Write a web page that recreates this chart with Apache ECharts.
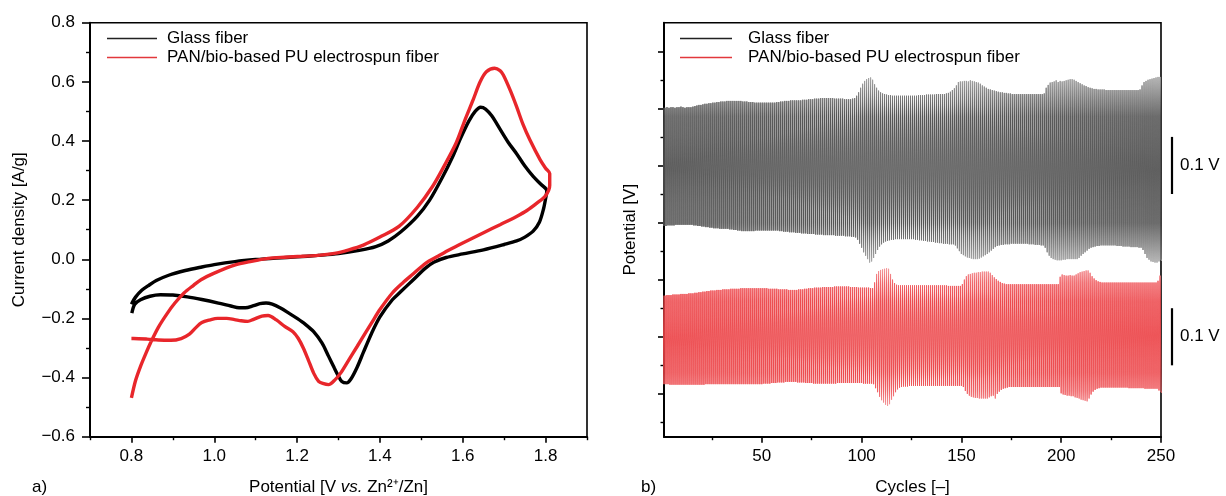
<!DOCTYPE html>
<html>
<head>
<meta charset="utf-8">
<script src="https://cdn.jsdelivr.net/npm/echarts@6/dist/echarts.min.js"></script>
<style>
  html, body { margin: 0; padding: 0; background: #fff; }
  #chart { width: 1226px; height: 496px; }
</style>
</head>
<body>
<div id="chart"></div>
<script>
// ---- a) cyclic voltammetry: potential [V vs. Zn2+/Zn] and current density [A/g]
const glassE = [0.800,0.810,0.825,0.840,0.860,0.890,0.930,0.970,1.000,1.050,1.100,1.150,1.200,1.250,1.300,1.350,1.390,1.420,1.450,1.490,1.520,1.550,1.575,1.595,1.615,1.630,1.643,1.655,1.670,1.690,1.710,1.730,1.750,1.770,1.790,1.803,
  1.800,1.795,1.785,1.770,1.750,1.730,1.700,1.650,1.600,1.560,1.530,1.510,1.480,1.450,1.430,1.400,1.380,1.360,1.345,1.330,1.320,1.308,1.298,1.290,1.275,1.260,1.240,1.220,1.200,1.180,1.160,1.140,1.125,1.110,1.095,1.075,1.060,1.040,1.010,0.970,0.935,0.900,0.870,0.845,0.822,0.808,0.801];
const glassI = [-0.152,-0.128,-0.105,-0.090,-0.072,-0.054,-0.038,-0.026,-0.018,-0.008,-0.001,0.004,0.008,0.013,0.019,0.030,0.043,0.062,0.092,0.145,0.200,0.275,0.345,0.410,0.468,0.500,0.514,0.508,0.485,0.440,0.395,0.357,0.315,0.280,0.252,0.232,
  0.205,0.170,0.125,0.095,0.075,0.062,0.050,0.032,0.018,0.006,-0.010,-0.030,-0.070,-0.110,-0.137,-0.195,-0.250,-0.315,-0.365,-0.405,-0.418,-0.413,-0.390,-0.368,-0.325,-0.283,-0.245,-0.220,-0.200,-0.182,-0.165,-0.152,-0.148,-0.150,-0.157,-0.164,-0.164,-0.158,-0.148,-0.136,-0.127,-0.121,-0.120,-0.125,-0.137,-0.152,-0.182];

const panE = [0.800,0.810,0.822,0.835,0.846,0.865,0.887,0.905,0.927,0.950,0.968,1.000,1.049,1.090,1.130,1.170,1.211,1.250,1.290,1.325,1.360,1.400,1.446,1.490,1.527,1.555,1.584,1.605,1.625,1.642,1.657,1.677,1.690,1.698,1.715,1.730,1.745,1.762,1.787,1.800,1.810,1.810,
  1.800,1.779,1.755,1.730,1.690,1.649,1.600,1.568,1.540,1.511,1.480,1.455,1.430,1.400,1.380,1.365,1.345,1.325,1.305,1.292,1.276,1.262,1.252,1.240,1.227,1.215,1.203,1.190,1.170,1.150,1.130,1.115,1.095,1.081,1.065,1.049,1.030,1.008,0.990,0.970,0.955,0.940,0.920,0.895,0.865,0.838,0.805,0.800];
const panI = [-0.469,-0.410,-0.362,-0.318,-0.283,-0.230,-0.182,-0.148,-0.114,-0.088,-0.069,-0.047,-0.020,-0.007,0.003,0.007,0.010,0.013,0.020,0.032,0.048,0.075,0.111,0.175,0.246,0.315,0.393,0.470,0.539,0.600,0.634,0.646,0.638,0.623,0.570,0.516,0.458,0.404,0.336,0.308,0.290,0.250,
  0.215,0.190,0.165,0.145,0.117,0.089,0.055,0.032,0.010,-0.013,-0.050,-0.080,-0.114,-0.170,-0.215,-0.249,-0.295,-0.340,-0.385,-0.407,-0.424,-0.420,-0.413,-0.385,-0.340,-0.300,-0.268,-0.245,-0.227,-0.205,-0.190,-0.192,-0.203,-0.210,-0.208,-0.204,-0.200,-0.200,-0.205,-0.214,-0.232,-0.253,-0.268,-0.274,-0.273,-0.270,-0.268,-0.268];

// ---- b) galvanostatic cycling: per-cycle peak potentials [mV], cycles 1..250
const glassUpper = [
  101,101,102,101,102,102,101,102,102,103,102,101,102,102,102,103,104,105,106,106,107,108,108,109,109,
  110,110,111,111,112,112,112,113,113,113,113,113,113,113,113,112,112,112,111,111,111,110,110,110,110,
  110,110,110,110,110,110,110,111,111,112,112,113,113,113,114,114,114,114,114,114,115,115,115,116,116,
  116,117,117,117,118,118,118,118,118,118,118,117,117,117,117,117,116,116,116,116,117,118,122,128,136,
  143,148,151,153,154,150,142,136,131,128,126,125,124,123,123,122,122,122,122,122,122,122,122,122,122,
  122,122,122,123,123,123,123,124,124,124,124,124,125,125,125,125,125,126,127,129,132,135,140,146,147,
  147,148,148,147,149,148,147,146,145,143,140,138,136,134,133,132,131,130,129,128,128,127,127,126,126,
  125,125,125,125,125,125,125,125,125,125,125,125,125,125,125,125,126,136,141,145,146,147,149,146,148,
  147,148,149,150,151,151,150,148,146,144,142,140,139,137,136,135,134,134,133,133,133,133,132,132,132,
  132,132,132,132,132,132,132,132,132,132,132,132,132,132,133,140,146,148,150,151,152,153,154,155,155];
const glassLower = [
  -106,-106,-105,-105,-105,-105,-104,-104,-104,-104,-104,-104,-104,-104,-104,-105,-105,-106,-106,-107,-107,-108,-108,-109,-109,
  -110,-110,-110,-111,-111,-111,-111,-111,-112,-112,-113,-113,-114,-114,-115,-115,-115,-115,-115,-115,-115,-114,-114,-114,-114,
  -114,-114,-114,-114,-114,-114,-114,-114,-115,-115,-116,-116,-116,-117,-117,-117,-118,-118,-118,-119,-119,-119,-120,-120,-120,
  -120,-121,-121,-121,-121,-122,-122,-122,-122,-122,-122,-123,-123,-123,-123,-123,-124,-124,-124,-125,-125,-126,-130,-137,-144,
  -152,-158,-164,-170,-168,-162,-155,-148,-142,-138,-135,-133,-132,-131,-130,-130,-129,-129,-129,-129,-129,-129,-129,-129,-129,
  -129,-130,-130,-131,-131,-132,-132,-133,-133,-134,-134,-135,-135,-136,-136,-137,-137,-137,-138,-138,-138,-140,-145,-150,-155,
  -157,-159,-161,-162,-163,-164,-164,-164,-163,-161,-159,-157,-155,-152,-149,-146,-143,-141,-140,-139,-139,-138,-138,-138,-137,
  -137,-137,-137,-137,-137,-137,-137,-137,-138,-138,-138,-139,-139,-139,-140,-140,-144,-152,-158,-162,-164,-165,-166,-166,-166,
  -165,-165,-164,-164,-164,-164,-164,-164,-162,-158,-155,-152,-149,-146,-144,-143,-142,-141,-141,-140,-140,-140,-140,-140,-140,
  -140,-140,-141,-141,-141,-142,-142,-142,-142,-143,-143,-143,-143,-144,-144,-148,-155,-162,-165,-168,-169,-170,-170,-168,-166];
const panUpper = [
  72,72,73,73,73,74,74,74,74,75,75,75,75,76,76,76,77,77,78,78,79,79,80,80,81,
  81,81,82,82,82,83,83,83,83,84,84,84,84,84,85,85,85,85,85,85,85,85,85,85,85,
  85,85,85,84,84,84,84,84,83,83,83,83,83,82,82,82,82,82,83,83,83,84,84,85,85,
  85,86,86,86,86,87,87,87,87,87,87,88,88,88,88,88,88,88,88,87,87,87,87,86,86,
  86,86,86,86,85,85,95,110,115,117,118,119,120,119,110,100,94,91,90,90,90,90,90,90,90,
  90,90,90,90,90,90,90,90,90,90,90,90,90,90,90,90,90,90,89,89,89,89,89,89,89,
  92,100,106,109,110,111,112,112,113,113,114,114,114,114,112,108,104,101,98,96,94,93,92,92,92,
  92,92,92,92,92,92,92,92,92,92,92,92,92,92,92,92,92,92,92,92,92,92,92,92,105,
  109,108,107,107,108,107,107,109,111,113,114,115,116,116,112,106,102,99,97,96,95,95,95,95,95,
  95,95,95,95,95,95,95,95,95,95,95,95,95,95,95,95,95,95,95,95,95,95,95,98,107];
const panLower = [
  -83,-83,-83,-84,-84,-84,-84,-84,-84,-84,-84,-84,-84,-84,-84,-84,-84,-84,-84,-84,-84,-83,-83,-83,-83,
  -83,-83,-83,-83,-83,-83,-83,-83,-83,-83,-83,-83,-83,-83,-83,-83,-83,-83,-83,-83,-83,-83,-83,-83,-83,
  -82,-82,-82,-82,-81,-81,-81,-80,-80,-80,-80,-79,-79,-79,-79,-79,-79,-80,-80,-80,-80,-81,-81,-81,-81,
  -82,-82,-82,-82,-82,-82,-82,-82,-82,-82,-82,-82,-81,-81,-81,-81,-81,-81,-81,-81,-81,-81,-81,-81,-81,
  -82,-82,-82,-82,-82,-83,-90,-97,-105,-111,-115,-119,-121,-118,-110,-104,-97,-92,-89,-88,-87,-87,-87,-86,-86,
  -86,-86,-86,-86,-86,-86,-86,-86,-86,-86,-86,-86,-86,-86,-86,-86,-86,-86,-86,-86,-86,-86,-86,-86,-86,
  -88,-95,-100,-103,-105,-106,-107,-107,-108,-108,-108,-108,-108,-106,-104,-103,-108,-100,-96,-93,-91,-90,-89,-88,-88,
  -88,-88,-88,-88,-88,-88,-88,-88,-88,-88,-88,-88,-88,-88,-88,-88,-88,-88,-88,-88,-88,-88,-88,-88,-99,
  -101,-102,-103,-103,-104,-104,-106,-107,-108,-110,-111,-112,-113,-108,-101,-96,-93,-91,-90,-89,-89,-89,-89,-89,-89,
  -89,-89,-89,-89,-89,-89,-89,-89,-90,-90,-90,-90,-90,-90,-90,-90,-91,-91,-91,-91,-91,-91,-91,-94,-97];

// vertical stacking of the two traces in panel b [V]
const glassOffset = 0.3;
const panOffset = 0.0;
const scaleBarV = 0.1;

// tick positions
const cvMajorTicksE = [0.8, 1.0, 1.2, 1.4, 1.6, 1.8];
const cvMinorTicksE = [0.7, 0.9, 1.1, 1.3, 1.5, 1.7, 1.9];
const cycleMajorTicks = [50, 100, 150, 200, 250];
const cycleMinorTicks = [25, 75, 125, 175, 225];
const potMajorTicks = [-0.1, 0.0, 0.1, 0.2, 0.3, 0.4, 0.5];
const potMinorTicks = [-0.15, -0.05, 0.05, 0.15, 0.25, 0.35, 0.45];

const seriesNames = ['Glass fiber', 'PAN/bio-based PU electrospun fiber'];

const FONT = '"Liberation Sans", Arial, Helvetica, sans-serif';
const FS = 17;

function pairs(xs, ys) { return xs.map((x, i) => [x, ys[i]]); }

// one charge / discharge step per cycle, drawn as a square wave
function cycleTrace(upper, lower, offset) {
  const pts = [];
  for (let i = 0; i < upper.length; i++) {
    const c = i + 1;
    const up = upper[i] / 1000 + offset;
    const lo = lower[i] / 1000 + offset;
    pts.push([c - 0.5, up], [c, up], [c, lo], [c + 0.5, lo]);
  }
  return pts;
}

function fmtSigned(v) {
  const s = Math.abs(v).toFixed(1);
  return v < -1e-9 ? '\u2212' + s : s;
}

const chart = echarts.init(document.getElementById('chart'), null, { renderer: 'canvas' });

const grayGrad = new echarts.graphic.LinearGradient(0, 0, 0, 1, [
  { offset: 0, color: '#ababab' }, { offset: 0.12, color: '#777' }, { offset: 0.22, color: '#505050' },
  { offset: 0.78, color: '#505050' }, { offset: 0.88, color: '#787878' }, { offset: 1, color: '#aeaeae' }]);
const redGrad = new echarts.graphic.LinearGradient(0, 0, 0, 1, [
  { offset: 0, color: '#f4a3a5' }, { offset: 0.12, color: '#f06266' }, { offset: 0.25, color: '#ec4448' },
  { offset: 0.75, color: '#ec4448' }, { offset: 0.88, color: '#f06266' }, { offset: 1, color: '#f4a3a5' }]);

const axisLineStyle = { onZero: false, lineStyle: { color: '#000', width: 2 } };
const labelStyle = { color: '#000', fontSize: FS, fontFamily: FONT };

const gridBase = { top: 22.7, width: 497, height: 414, show: true, borderColor: '#000', borderWidth: 1.6,
  containLabel: false, outerBoundsMode: 'none' };

const option = {
  animation: false,
  textStyle: { fontFamily: FONT },
  grid: [
    { ...gridBase, left: 90 },
    { ...gridBase, left: 664 }
  ],
  legend: [
    {
      left: 107, top: 29, orient: 'vertical', itemGap: 0, padding: 0,
      icon: 'rect', itemWidth: 50, itemHeight: 1.4,
      textStyle: { color: '#000', fontSize: FS, fontFamily: FONT, lineHeight: 19, padding: [0, 0, 0, 5] },
      data: [
        { name: seriesNames[0], itemStyle: { color: '#222' } },
        { name: seriesNames[1], itemStyle: { color: '#e2383c' } }
      ],
      selectedMode: false
    },
    {
      left: 680, top: 29, orient: 'vertical', itemGap: 0, padding: 0,
      icon: 'rect', itemWidth: 52, itemHeight: 1.4,
      textStyle: { color: '#000', fontSize: FS, fontFamily: FONT, lineHeight: 19, padding: [0, 0, 0, 11] },
      data: [
        { name: seriesNames[0], itemStyle: { color: '#222' } },
        { name: seriesNames[1], itemStyle: { color: '#e2383c' } }
      ],
      selectedMode: false
    }
  ],
  xAxis: [
    {
      gridIndex: 0, type: 'value', min: 0.7, max: 1.9, position: 'bottom',
      name: '{n|Potential [V }{i|vs.}{n| Zn\u00B2\u207A/Zn]}', nameLocation: 'middle', nameGap: 42,
      nameTextStyle: { verticalAlign: 'top', rich: {
        n: { fontSize: FS, fontFamily: FONT, color: '#000' },
        i: { fontSize: FS, fontFamily: FONT, color: '#000', fontStyle: 'italic' } } },
      axisLine: axisLineStyle,
      axisTick: { show: true, inside: false, length: 6, lineStyle: { color: '#000', width: 1.6 }, customValues: cvMajorTicksE },
      axisLabel: { ...labelStyle, margin: 11, customValues: cvMajorTicksE, formatter: v => fmtSigned(v) },
      splitLine: { show: false }
    },
    {
      gridIndex: 0, type: 'value', min: 0.7, max: 1.9, position: 'bottom',
      axisLine: { show: false, onZero: false },
      axisTick: { show: true, inside: false, length: 3.5, lineStyle: { color: '#000', width: 1.4 }, customValues: cvMinorTicksE },
      axisLabel: { show: false }, splitLine: { show: false }
    },
    {
      gridIndex: 1, type: 'value', min: 1, max: 250, position: 'bottom',
      name: 'Cycles [\u2013]', nameLocation: 'middle', nameGap: 42,
      nameTextStyle: { ...labelStyle, verticalAlign: 'top' },
      axisLine: axisLineStyle,
      axisTick: { show: true, inside: false, length: 6, lineStyle: { color: '#000', width: 1.6 }, customValues: cycleMajorTicks },
      axisLabel: { ...labelStyle, margin: 11, customValues: cycleMajorTicks },
      splitLine: { show: false }
    },
    {
      gridIndex: 1, type: 'value', min: 1, max: 250, position: 'bottom',
      axisLine: { show: false, onZero: false },
      axisTick: { show: true, inside: false, length: 3.5, lineStyle: { color: '#000', width: 1.4 }, customValues: cycleMinorTicks },
      axisLabel: { show: false }, splitLine: { show: false }
    }
  ],
  yAxis: [
    {
      gridIndex: 0, type: 'value', min: -0.6, max: 0.8, interval: 0.2, position: 'left',
      name: 'Current density [A/g]', nameLocation: 'middle', nameGap: 62,
      nameTextStyle: { ...labelStyle },
      axisLine: axisLineStyle,
      axisTick: { show: true, inside: false, length: 8, lineStyle: { color: '#000', width: 1.6 } },
      minorTick: { show: true, splitNumber: 2, length: 4, lineStyle: { color: '#000', width: 1.4 } },
      axisLabel: { ...labelStyle, margin: 15, formatter: v => fmtSigned(v) },
      splitLine: { show: false }, minorSplitLine: { show: false }
    },
    {
      gridIndex: 1, type: 'value', min: -0.175, max: 0.55, position: 'left',
      name: 'Potential [V]', nameLocation: 'middle', nameGap: 25,
      nameTextStyle: { ...labelStyle },
      axisLine: axisLineStyle,
      axisTick: { show: true, inside: false, length: 6, lineStyle: { color: '#000', width: 1.6 }, customValues: potMajorTicks },
      axisLabel: { show: false },
      splitLine: { show: false }
    },
    {
      gridIndex: 1, type: 'value', min: -0.175, max: 0.55, position: 'left',
      axisLine: { show: false, onZero: false },
      axisTick: { show: true, inside: false, length: 3.5, lineStyle: { color: '#000', width: 1.4 }, customValues: potMinorTicks },
      axisLabel: { show: false }, splitLine: { show: false }
    }
  ],
  series: [
    {
      name: seriesNames[0], type: 'line', xAxisIndex: 0, yAxisIndex: 0,
      data: pairs(glassE, glassI), smooth: 0.3, showSymbol: false, symbol: 'none',
      lineStyle: { color: '#000', width: 3.4 }, itemStyle: { color: '#000' }, z: 3
    },
    {
      name: seriesNames[1], type: 'line', xAxisIndex: 0, yAxisIndex: 0,
      data: pairs(panE, panI), smooth: 0.3, showSymbol: false, symbol: 'none',
      lineStyle: { color: '#e8262b', width: 3.4 }, itemStyle: { color: '#e8262b' }, z: 4
    },
    {
      name: seriesNames[0], type: 'line', xAxisIndex: 2, yAxisIndex: 1,
      data: cycleTrace(glassUpper, glassLower, glassOffset), showSymbol: false, symbol: 'none',
      sampling: null, clip: true, lineStyle: { color: grayGrad, width: 0.7 }, itemStyle: { color: '#333' }
    },
    {
      name: seriesNames[1], type: 'line', xAxisIndex: 2, yAxisIndex: 1,
      data: cycleTrace(panUpper, panLower, panOffset), showSymbol: false, symbol: 'none',
      sampling: null, clip: true, lineStyle: { color: redGrad, width: 0.7 }, itemStyle: { color: '#e2383c' }
    }
  ]
};

chart.setOption(option);

// panel letters and 0.1 V scale bars next to panel b
function drawAnnotations() {
  const q = { xAxisIndex: 2, yAxisIndex: 1 };
  const bars = [glassOffset, panOffset].map(off => {
    const top = chart.convertToPixel(q, [250, off + scaleBarV / 2]);
    const bot = chart.convertToPixel(q, [250, off - scaleBarV / 2]);
    return { x: top[0] + 11, y1: top[1], y2: bot[1] };
  });
  const elements = [
    { type: 'text', left: 32, top: 479, style: { text: 'a)', fontSize: FS, fontFamily: FONT, fill: '#000' } },
    { type: 'text', left: 641, top: 479, style: { text: 'b)', fontSize: FS, fontFamily: FONT, fill: '#000' } }
  ];
  bars.forEach(b => {
    elements.push({ type: 'line', shape: { x1: b.x, y1: b.y1, x2: b.x, y2: b.y2 }, style: { stroke: '#000', lineWidth: 2.2 } });
    elements.push({ type: 'text', x: b.x + 8, y: (b.y1 + b.y2) / 2,
      style: { text: '0.1 V', fontSize: FS, fontFamily: FONT, fill: '#000', verticalAlign: 'middle', align: 'left' } });
  });
  chart.setOption({ graphic: { elements } });
}
drawAnnotations();
</script>
</body>
</html>
